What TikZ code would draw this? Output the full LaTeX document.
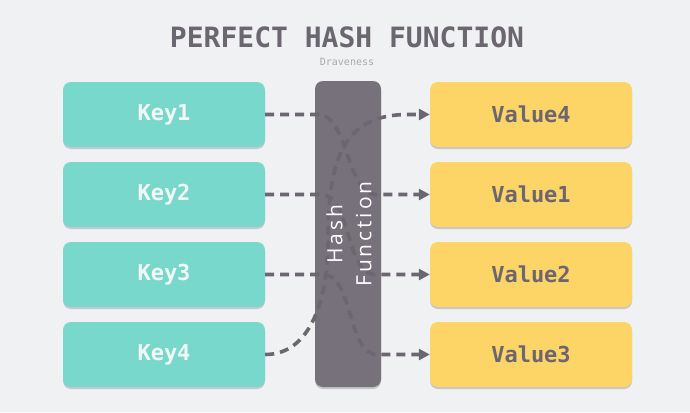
\documentclass[tikz,border=0pt]{standalone}
\usepackage{fontspec}
\setmainfont{DejaVu Sans}
\newfontfamily\monofont{DejaVu Sans Mono}
\newfontfamily\hashfont[LetterSpace=14]{Open Sans}
\usetikzlibrary{arrows.meta,shadows,calc}
\definecolor{bg}{HTML}{F0F1F3}
\definecolor{keyc}{HTML}{79D8CC}
\definecolor{valc}{HTML}{FDD466}
\definecolor{hashc}{HTML}{76717B}
\definecolor{darktxt}{HTML}{6B6670}
\definecolor{keytxt}{HTML}{F2F7F6}
\definecolor{subtxt}{HTML}{A9A9AE}
\tikzset{
  box/.style={rounded corners=8pt, minimum width=202pt, minimum height=65pt, inner sep=0pt,
    drop shadow={shadow xshift=0pt, shadow yshift=-2pt, opacity=0.25, fill=black!70}},
  keybox/.style={box, fill=keyc, text=keytxt, font=\monofont\bfseries\fontsize{22}{24}\selectfont},
  valbox/.style={box, fill=valc, text=darktxt, font=\monofont\bfseries\fontsize{22}{24}\selectfont},
  conn/.style={draw=darktxt, line width=3.6pt, dash pattern=on 9pt off 6pt,
    -{Triangle[length=11pt,width=11pt]}},
}
\begin{document}
\begin{tikzpicture}[x=1pt,y=-1pt]
\fill[bg] (0,0) rectangle (690,412);
\useasboundingbox (0,0) rectangle (690,412);
\node[text=darktxt, font=\monofont\bfseries\fontsize{28}{30}\selectfont] (title) at (347,37) {PERFECT HASH FUNCTION};
\node[text=subtxt, font=\monofont\fontsize{10}{12}\selectfont] (sub) at (347,62) {Draveness};
% hash box
\node[rounded corners=8pt, fill=hashc, minimum width=66pt, minimum height=306pt, inner sep=0pt,
  drop shadow={shadow xshift=0pt, shadow yshift=-2pt, opacity=0.25, fill=black!70}] (hash) at (348,234) {};
% keys
\node[keybox] (k1) at (164,114.5) {Key1};
\node[keybox] (k2) at (164,194.5) {Key2};
\node[keybox] (k3) at (164,274.5) {Key3};
\node[keybox] (k4) at (164,354.5) {Key4};
% values
\node[valbox] (v4) at (531,114.5) {Value4};
\node[valbox] (v1) at (531,194.5) {Value1};
\node[valbox] (v2) at (531,274.5) {Value2};
\node[valbox] (v3) at (531,354.5) {Value3};
% connectors
\draw[conn] (k1.east) -- ++(53,0) .. controls +(30,0) and +(-30,0) .. ++(58,80) -- (v1.west);
\draw[conn] (k2.east) -- ++(56,0) .. controls +(30,0) and +(-30,0) .. ++(54,80) -- (v2.west);
\draw[conn] (k3.east) -- ++(58,0) .. controls +(30,0) and +(-30,0) .. ++(54,80) -- (v3.west);
\coordinate (m4) at (328,240);
\draw[conn] (k4.east) .. controls +(45,0) and +(0,60) .. (m4)
  .. controls +(0,-80) and +(-65,0) .. ($(v4.west)+(-22,0)$) -- (v4.west);
% hash text
\node[rotate=90, text=white, align=center, font=\hashfont\fontsize{21}{29}\selectfont] (htxt) at (349,234) {Hash\\Function};
\end{tikzpicture}
\end{document}
